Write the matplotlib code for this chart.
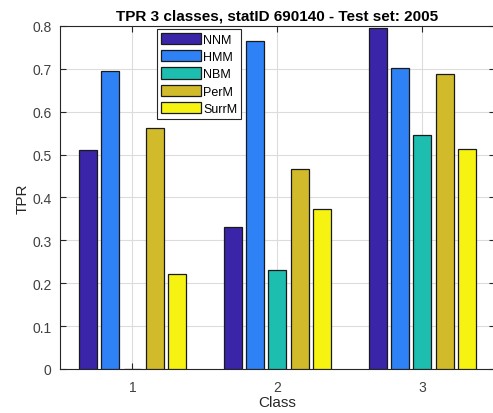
import numpy as np
import matplotlib
matplotlib.use("Agg")
import matplotlib.pyplot as plt

plt.rcParams['font.family'] = ['Liberation Sans', 'DejaVu Sans']

classes = [1, 2, 3]
methods = ["NNM", "HMM", "NBM", "PerM", "SurrM"]
nnm = [0.510, 0.332, 0.795]
hmm = [0.696, 0.766, 0.701]
nbm = [0.0, 0.230, 0.545]
perm = [0.563, 0.467, 0.689]
surrm = [0.222, 0.373, 0.512]
colors = ["#3a24a8", "#2f82f6", "#1dbdb0", "#d2bb2a", "#f6f312"]

series = [nnm, hmm, nbm, perm, surrm]

fig = plt.figure(figsize=(4.93, 4.14), dpi=100)
ax = fig.add_axes([0.1217, 0.1063, 0.882, 0.8285])

n = len(series)
group_w = min(0.8, n / (n + 1.5))
step = group_w / n
bar_w = step * 0.8
x = np.array(classes, dtype=float)
for i, (vals, name, c) in enumerate(zip(series, methods, colors)):
    offs = (i - (n - 1) / 2) * step
    ax.bar(x + offs, vals, width=bar_w, color=c, edgecolor="#1a1a1a",
           linewidth=0.9, label=name, zorder=3)

ax.set_xlim(0.5, 3.5)
ax.set_ylim(0, 0.8)
ax.set_xticks(classes)
ax.set_yticks(np.arange(0, 0.81, 0.1))
ax.set_yticklabels(["0", "0.1", "0.2", "0.3", "0.4", "0.5", "0.6", "0.7", "0.8"])
ax.grid(True, color="#dcdcdc", linewidth=0.8, zorder=0)
ax.set_axisbelow(True)
ax.tick_params(direction="in", length=4, top=True, right=True, pad=6,
               labelsize=10, colors="#262626", labelcolor="#404040")
ax.tick_params(axis="x", pad=8)
for s in ax.spines.values():
    s.set_color("#262626")
    s.set_linewidth(0.8)

ax.set_title("TPR 3 classes, statID 690140 - Test set: 2005",
             fontsize=11, fontweight="bold", pad=5)
ax.set_xlabel("Class", fontsize=11, color="#262626", labelpad=1)
ax.set_ylabel("TPR", fontsize=11, color="#262626", labelpad=2)

leg = ax.legend(loc="upper left", bbox_to_anchor=(0.218, 0.998), fontsize=9,
                handlelength=3.2, handleheight=1.0, handletextpad=0.15,
                labelspacing=0.35, borderpad=0.3, borderaxespad=0.2,
                fancybox=False, framealpha=1, edgecolor="#262626")
leg.get_frame().set_linewidth(0.8)

fig.savefig("out.png", dpi=100)
